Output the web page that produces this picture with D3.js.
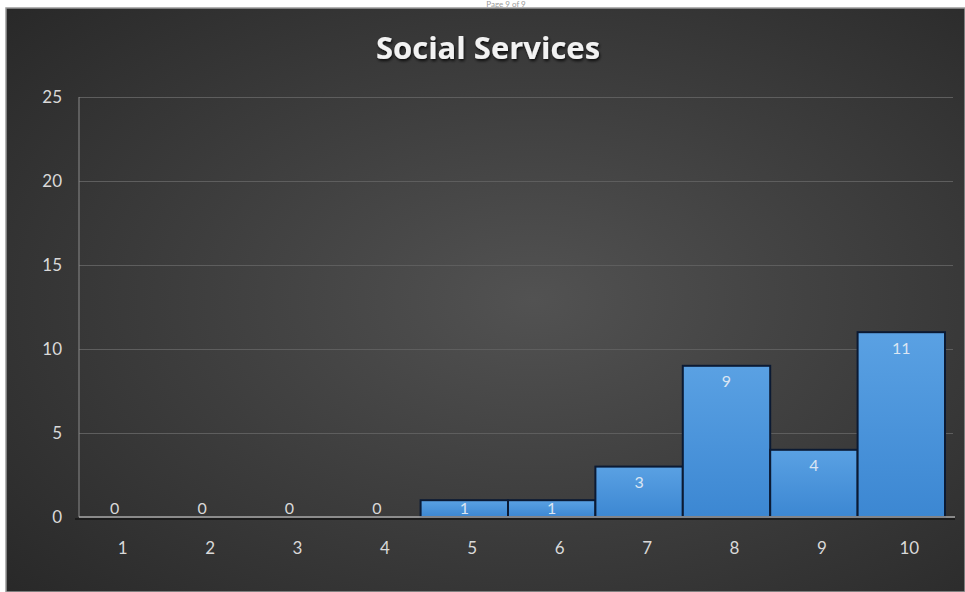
<!DOCTYPE html>
<html>
<head>
<meta charset="utf-8">
<script src="https://cdn.jsdelivr.net/npm/d3@7"></script>
<style>
  html, body { margin: 0; padding: 0; background: #fff; }
  svg { display: block; }
</style>
</head>
<body>
<div id="chart"></div>
<script>
const categories = ["1", "2", "3", "4", "5", "6", "7", "8", "9", "10"];
const counts = [0, 0, 0, 0, 1, 1, 3, 9, 4, 11];
const yTicks = [0, 5, 10, 15, 20, 25];
const title = "Social Services";
const pageText = "Page 9 of 9";

const width = 965;
const height = 592;
const plot = { left: 79, right: 953, top: 97, bottom: 517 };

const svg = d3.select("#chart")
    .append("svg")
    .attr("width", width)
    .attr("height", height);

const defs = svg.append("defs");

const bg = defs.append("radialGradient")
    .attr("id", "bg")
    .attr("cx", "55%").attr("cy", "50%").attr("r", "75%");
bg.append("stop").attr("offset", "0%").attr("stop-color", "#525252");
bg.append("stop").attr("offset", "100%").attr("stop-color", "#282828");

const barFill = defs.append("linearGradient")
    .attr("id", "barFill")
    .attr("x1", 0).attr("y1", 0).attr("x2", 0).attr("y2", 1);
barFill.append("stop").attr("offset", "0%").attr("stop-color", "#5aa1e3");
barFill.append("stop").attr("offset", "100%").attr("stop-color", "#3c87d2");

const shadow = defs.append("filter").attr("id", "shadow")
    .attr("x", "-10%").attr("y", "-30%").attr("width", "120%").attr("height", "160%");
shadow.append("feDropShadow")
    .attr("dx", 1).attr("dy", 2).attr("stdDeviation", 1.5)
    .attr("flood-color", "#000").attr("flood-opacity", 0.8);

// page header text in the thin white strip above the chart
svg.append("text")
    .attr("x", 506).attr("y", 7)
    .attr("text-anchor", "middle")
    .style("font-family", "Lato, sans-serif")
    .style("font-size", "8px")
    .style("fill", "#9a9a9a")
    .text(pageText);

// chart frame
svg.append("rect")
    .attr("x", 6).attr("y", 8)
    .attr("width", width - 6).attr("height", height - 8)
    .attr("fill", "url(#bg)")
    .attr("stroke", "#9a9a9a")
    .attr("stroke-width", 1.5);

svg.append("text")
    .attr("x", 488).attr("y", 59)
    .attr("text-anchor", "middle")
    .attr("filter", "url(#shadow)")
    .style("font-family", "'Open Sans', sans-serif")
    .style("font-weight", "bold")
    .style("font-size", "31px")
    .style("fill", "#f2f2f2")
    .text(title);

const x = d3.scaleBand()
    .domain(categories)
    .range([plot.left, plot.right])
    .padding(0);

const y = d3.scaleLinear()
    .domain([0, 25])
    .range([plot.bottom, plot.top]);

// bars sit a little left of their category labels in the original
const barShift = -8;

// gridlines
svg.append("g")
    .attr("transform", `translate(${plot.left},0)`)
    .call(d3.axisLeft(y).tickValues(yTicks.slice(1)).tickSize(-(plot.right - plot.left)).tickFormat(""))
    .call(g => g.select(".domain").remove())
    .call(g => g.selectAll("line").attr("stroke", "#5e5e5e").attr("stroke-width", 1));

// y axis labels
svg.append("g")
    .attr("transform", `translate(${plot.left},0)`)
    .call(d3.axisLeft(y).tickValues(yTicks).tickSize(0).tickPadding(17))
    .call(g => g.select(".domain").remove())
    .call(g => g.selectAll("text")
        .style("font-family", "Lato, sans-serif")
        .style("font-size", "17px")
        .style("fill", "#d9d9d9"));

// y axis line
svg.append("line")
    .attr("x1", plot.left).attr("x2", plot.left)
    .attr("y1", y(25)).attr("y2", y(0))
    .attr("stroke", "#8a8a8a").attr("stroke-width", 1);

const bars = categories.map((c, i) => ({ cat: c, value: counts[i] }));

svg.append("g")
    .selectAll("rect")
    .data(bars.filter(d => d.value > 0))
    .join("rect")
    .attr("x", d => x(d.cat) + barShift)
    .attr("y", d => y(d.value))
    .attr("width", x.bandwidth())
    .attr("height", d => y(0) - y(d.value))
    .attr("fill", "url(#barFill)")
    .attr("stroke", "#0b1a33")
    .attr("stroke-width", 2);

// baseline with its shadow
svg.append("line")
    .attr("x1", plot.left - 4).attr("x2", plot.right + 2)
    .attr("y1", y(0) + 2).attr("y2", y(0) + 2)
    .attr("stroke", "#1c1c1c").attr("stroke-width", 2);
svg.append("line")
    .attr("x1", plot.left).attr("x2", plot.right + 2)
    .attr("y1", y(0)).attr("y2", y(0))
    .attr("stroke", "#a8a8a8").attr("stroke-width", 1.5);

// data labels
svg.append("g")
    .selectAll("text")
    .data(bars)
    .join("text")
    .attr("x", d => x(d.cat) + barShift + x.bandwidth() / 2)
    .attr("y", d => Math.min(y(d.value) + 16, y(0) - 9))
    .attr("dy", "0.35em")
    .attr("text-anchor", "middle")
    .style("font-family", "Lato, sans-serif")
    .style("font-size", "16px")
    .style("fill", d => d.value > 0 ? "#dbe6f3" : "#d9d9d9")
    .text(d => d.value);

// x axis labels
svg.append("g")
    .attr("transform", `translate(0,${plot.bottom})`)
    .call(d3.axisBottom(x).tickSize(0).tickPadding(25))
    .call(g => g.select(".domain").remove())
    .call(g => g.selectAll("text")
        .style("font-family", "Lato, sans-serif")
        .style("font-size", "17px")
        .style("fill", "#d9d9d9"));
</script>
</body>
</html>
